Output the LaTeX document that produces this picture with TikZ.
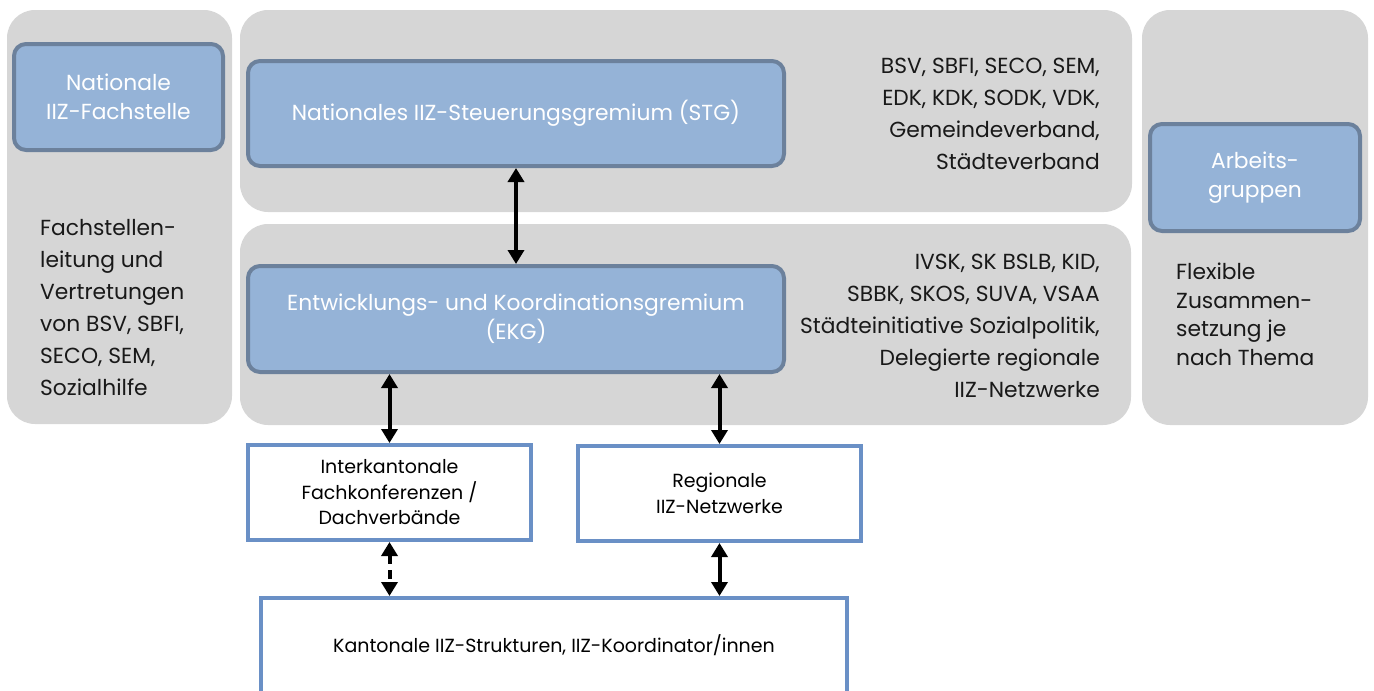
\documentclass[tikz,border=0pt]{standalone}
\usepackage{fontspec}
\setmainfont{Poppins}
\usepackage{xcolor}
\usetikzlibrary{arrows.meta}
\definecolor{panelgray}{HTML}{D6D6D6}
\definecolor{boxblue}{HTML}{95B3D7}
\definecolor{boxedge}{HTML}{6C819C}
\definecolor{lineblue}{HTML}{6A90C6}

\begin{document}
\begin{tikzpicture}[x=1pt,y=-1pt]
            \tikzset{Panel/.style={%
                    shape=rectangle,%
                    fill=panelgray,%
                    rounded corners=28pt,%
                    inner sep=0pt,%
                },
                Gremium/.style={%
                    shape=rectangle,%
                    fill=boxblue,%
                    draw=boxedge,%
                    line width=4pt,%
                    rounded corners=12pt,%
                    text=white,%
                    align=center,%
                    inner sep=0pt,%
                    font=\fontsize{21.8}{29}\selectfont,%
                },
                Ebene/.style={%
                    shape=rectangle,%
                    fill=white,%
                    draw=lineblue,%
                    line width=4pt,%
                    align=center,%
                    inner sep=0pt,%
                    font=\fontsize{19}{25.5}\selectfont,%
                },
                Liste/.style={%
                    inner sep=0pt,%
                    text=black!90,%
                    font=\fontsize{21.8}{32}\selectfont,%
                },
                Link/.style={%
                    {Triangle[width=16pt,length=14pt]}-{Triangle[width=16pt,length=14pt]},%
                    line width=4pt,%
                }}

                \useasboundingbox (0,0) rectangle (1374,691);
                \clip (0,0) rectangle (1374,691);

                % grey background panels
                \node[Panel, minimum width=225pt, minimum height=414pt] (fachpanel) at (119.5,217) {};
                \node[Panel, minimum width=892pt, minimum height=202pt] (stgpanel) at (686,111) {};
                \node[Panel, minimum width=891pt, minimum height=201pt] (ekgpanel) at (685.5,324.5) {};
                \node[Panel, minimum width=226pt, minimum height=415pt] (agpanel) at (1255,217.5) {};

                % committees
                \node[Gremium, minimum width=209pt, minimum height=106pt] (fach) at (118.5,97) {Nationale\\IIZ-Fachstelle};
                \node[Gremium, minimum width=536pt, minimum height=105pt] (stg) at (516,113.5) {Nationales IIZ-Steuerungsgremium (STG)};
                \node[Gremium, minimum width=536pt, minimum height=106pt] (ekg) at (516,319) {Entwicklungs- und Koordinationsgremium\\(EKG)};
                \node[Gremium, minimum width=210pt, minimum height=107pt] (ag) at (1255,177.5) {Arbeits-\\gruppen};

                % members
                \node[Liste, anchor=west, align=left] (fachtext) at (40,308) {Fachstellen-\\leitung und\\Vertretungen\\von BSV, SBFI,\\SECO, SEM,\\Sozialhilfe};
                \node[Liste, anchor=east, align=right] (stgtext) at (1100,114) {BSV, SBFI, SECO, SEM,\\EDK, KDK, SODK, VDK,\\Gemeindeverband,\\Städteverband};
                \node[Liste, anchor=east, align=right] (ekgtext) at (1100,325.5) {IVSK, SK BSLB, KID,\\SBBK, SKOS, SUVA, VSAA\\Städteinitiative Sozialpolitik,\\Delegierte regionale\\IIZ-Netzwerke};
                \node[Liste, anchor=west, align=left, font=\fontsize{21.8}{28.5}\selectfont] (agtext) at (1176,314.5) {Flexible\\Zusammen-\\setzung je\\nach Thema};

                % lower levels
                \node[Ebene, minimum width=283pt, minimum height=95pt] (inter) at (389.5,492.5) {Interkantonale\\Fachkonferenzen /\\Dachverbände};
                \node[Ebene, minimum width=283pt, minimum height=95pt] (regio) at (719.5,493.5) {Regionale\\IIZ-Netzwerke};
                \node[Ebene, minimum width=586pt, minimum height=120pt, text depth=28pt] (kant) at (554,658) {Kantonale IIZ-Strukturen, IIZ-Koordinator/innen};

                \path (stg) edge[Link] (ekg);
                \path (ekg.south -| inter) edge[Link] (inter);
                \path (ekg.south -| regio) edge[Link] (regio);
                \path (inter) edge[Link, dash pattern=on 9pt off 6pt] (kant.north -| inter);
                \path (regio) edge[Link] (kant.north -| regio);
        \end{tikzpicture}
\end{document}
